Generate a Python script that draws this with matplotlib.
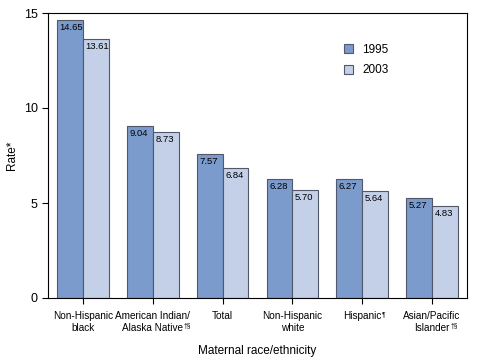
import matplotlib.pyplot as plt
import numpy as np

line1 = ["Non-Hispanic", "American Indian/", "Total", "Non-Hispanic", "Hispanic", "Asian/Pacific"]
line2 = ["black", "Alaska Native", "", "white", "", "Islander"]
marks = ["", "†§", "", "", "¶", "†§"]
rate_1995 = [14.65, 9.04, 7.57, 6.28, 6.27, 5.27]
rate_2003 = [13.61, 8.73, 6.84, 5.70, 5.64, 4.83]
years = ["1995", "2003"]
colors = ["#7b9bcc", "#c4d0e8"]

plt.rcParams['font.family'] = ['Liberation Sans', 'DejaVu Sans']

fig = plt.figure(figsize=(4.85, 3.58), dpi=100)
ax = fig.add_axes([48/485, 1-298/358, 419/485, 285/358])

x = np.arange(len(line1))
w = 0.37
for i, (vals, lab) in enumerate(zip([rate_1995, rate_2003], years)):
    pos = x - w/2 + i*w
    ax.bar(pos, vals, w, color=colors[i], edgecolor="#50586a", linewidth=0.8, label=lab)
    for p, v in zip(pos, vals):
        ax.text(p - w/2 + 0.035, v - 0.15, f"{v:.2f}", ha="left", va="top", fontsize=6.8)

ax.set_xlim(-0.5, 5.5)
ax.set_ylim(0, 15)
ax.set_yticks([0, 5, 10, 15])
ax.set_xticks(x)
ax.set_xticklabels([])
ax.tick_params(axis="y", labelsize=9, length=4)
ax.tick_params(axis="x", length=4)
ax.set_ylabel("Rate*", fontsize=8.5)
ax.set_xlabel("Maternal race/ethnicity", fontsize=8.5, labelpad=26)
ax.legend(loc="upper left", bbox_to_anchor=(0.68, 0.93), frameon=False, fontsize=8.5,
          handlelength=0.8, handleheight=0.8, labelspacing=0.75)

# category labels, one text per line so the superscript marks sit after the last line
for xi, a, b, m in zip(x, line1, line2, marks):
    t = ax.annotate(a, xy=(xi, 0), xycoords=("data", "axes fraction"), xytext=(0, -9.5),
                    textcoords="offset points", ha="center", va="top", fontsize=7.2)
    if b:
        t = ax.annotate(b, xy=(xi, 0), xycoords=("data", "axes fraction"), xytext=(0, -18),
                        textcoords="offset points", ha="center", va="top", fontsize=7.2)
    if m:
        ax.annotate(m, xy=(1, 1), xycoords=t, xytext=(0.3, 0),
                    textcoords="offset points", ha="left", va="top", fontsize=4.8)

plt.savefig("out.png")
